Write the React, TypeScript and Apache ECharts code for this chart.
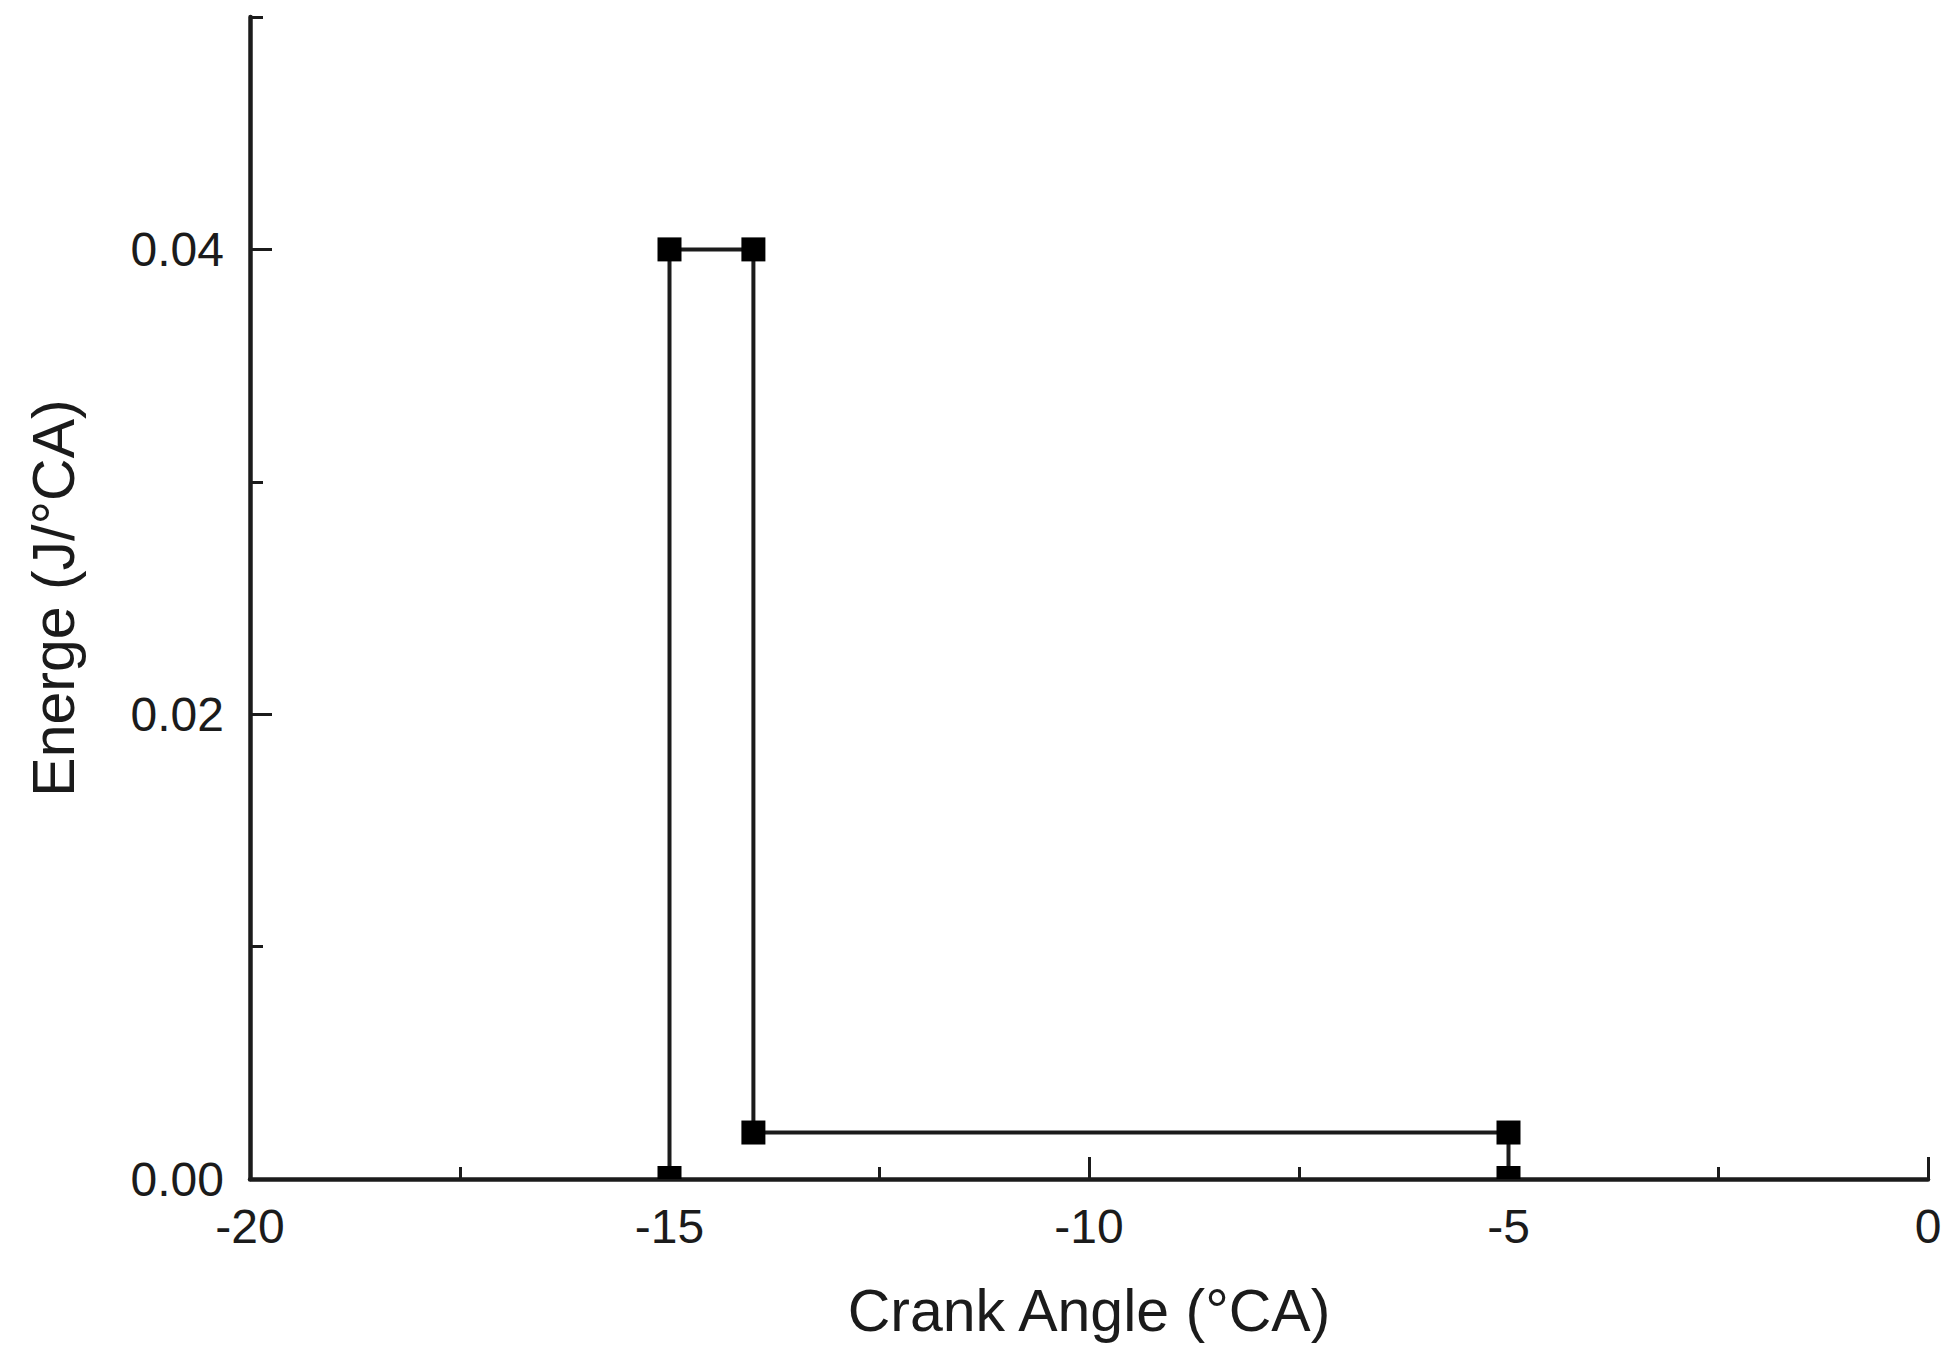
import React, { useEffect, useRef } from "react";
import * as echarts from "echarts";

const crankAngle = [-15, -15, -14, -14, -5, -5];
const energy = [0, 0.04, 0.04, 0.002, 0.002, 0];

const xMajorTicks = [-20, -15, -10, -5, 0];
const xMinorTicks = [-17.5, -12.5, -7.5, -2.5];
const yMajorTicks = [0, 0.02, 0.04];
const yMinorTicks = [0.01, 0.03, 0.05];

const INK = "#1b1b1b";
const FONT = "'Liberation Sans', Arial, Helvetica, sans-serif";

const WIDTH = 1954;
const HEIGHT = 1363;
const GRID = { left: 250, right: 26, top: 17, bottom: 184, containLabel: false };

export default function App() {
  const ref = useRef<HTMLDivElement>(null);
  useEffect(() => {
    if (!ref.current) return;
    const chart = echarts.init(ref.current, null, { renderer: "svg" });
    const data = crankAngle.map((x, i) => {
      const y = energy[i];
      if (y === 0) {
        return { value: [x, y], symbolSize: [24, 13], symbolOffset: [0, -6.5] };
      }
      return { value: [x, y] };
    });
    const baseX = {
      type: "value",
      min: -20,
      max: 0,
      position: "bottom",
      splitLine: { show: false },
    };
    const baseY = {
      type: "value",
      min: 0,
      max: 0.05,
      position: "left",
      splitLine: { show: false },
    };
    chart.setOption({
      animation: false,
      backgroundColor: "#ffffff",
      grid: [{ ...GRID }, { ...GRID }],
      xAxis: [
        {
          ...baseX,
          gridIndex: 0,
          interval: 5,
          name: "Crank Angle (°CA)",
          nameLocation: "middle",
          nameGap: 102,
          nameTextStyle: { fontSize: 59, color: INK, fontFamily: FONT },
          axisLine: { onZero: false, lineStyle: { color: INK, width: 4.5 } },
          axisTick: {
            inside: true,
            length: 22,
            customValues: xMajorTicks,
            lineStyle: { color: INK, width: 3 },
          },
          axisLabel: {
            customValues: xMajorTicks,
            fontSize: 48,
            color: INK,
            fontFamily: FONT,
            margin: 23,
            showMinLabel: true,
            showMaxLabel: true,
          },
        },
        {
          ...baseX,
          gridIndex: 1,
          interval: 2.5,
          axisLine: { show: false, onZero: false },
          axisTick: {
            inside: true,
            length: 12,
            customValues: xMinorTicks,
            lineStyle: { color: INK, width: 3 },
          },
          axisLabel: { show: false },
        },
      ],
      yAxis: [
        {
          ...baseY,
          gridIndex: 0,
          interval: 0.01,
          name: "Energe (J/°CA)",
          nameLocation: "middle",
          nameGap: 167,
          nameTextStyle: { fontSize: 59, color: INK, fontFamily: FONT },
          axisLine: { onZero: false, lineStyle: { color: INK, width: 4.5 } },
          axisTick: {
            inside: true,
            length: 22,
            customValues: yMajorTicks,
            lineStyle: { color: INK, width: 3 },
          },
          axisLabel: {
            customValues: yMajorTicks,
            fontSize: 48,
            color: INK,
            fontFamily: FONT,
            margin: 26,
            formatter: (v: number) => v.toFixed(2),
          },
        },
        {
          ...baseY,
          gridIndex: 1,
          interval: 0.01,
          axisLine: { show: false, onZero: false },
          axisTick: {
            inside: true,
            length: 13,
            customValues: yMinorTicks,
            lineStyle: { color: INK, width: 3 },
          },
          axisLabel: { show: false },
        },
      ],
      series: [
        {
          type: "line",
          xAxisIndex: 0,
          yAxisIndex: 0,
          data,
          symbol: "rect",
          symbolSize: 24,
          showAllSymbol: true,
          clip: false,
          itemStyle: { color: "#000000" },
          lineStyle: { color: INK, width: 4 },
          z: 3,
        },
      ],
    });
    return () => chart.dispose();
  }, []);
  return (
    <div
      ref={ref}
      style={{ position: "fixed", left: 0, top: 0, width: WIDTH, height: HEIGHT, background: "#fff" }}
    />
  );
}
